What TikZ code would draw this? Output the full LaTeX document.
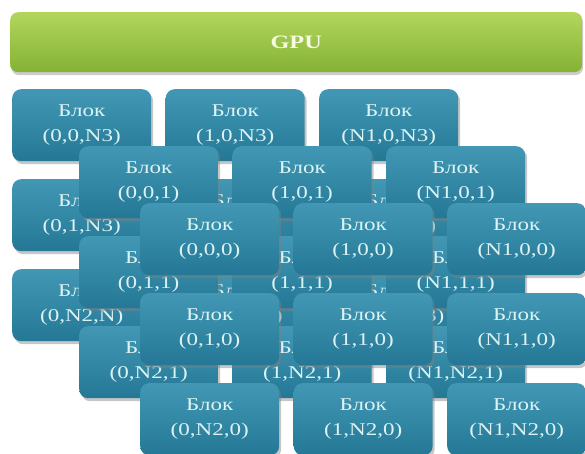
\documentclass[tikz,border=0pt]{standalone}
\usepackage{fontspec}
\setmainfont{Liberation Serif}
\newfontfamily\blokfont[FakeStretch=1.28]{Liberation Serif}
\usetikzlibrary{shadows}
\definecolor{blokTop}{RGB}{66,152,180}
\definecolor{blokMid}{RGB}{44,134,163}
\definecolor{blokBot}{RGB}{36,120,150}
\definecolor{blokText}{RGB}{220,243,243}
\definecolor{gpuTop}{RGB}{178,214,92}
\definecolor{gpuMid}{RGB}{156,199,68}
\definecolor{gpuBot}{RGB}{132,178,52}
\definecolor{gpuText}{RGB}{246,250,226}
\tikzstyle{blok} = [rectangle, rounded corners=9pt, anchor=north west, minimum width=139pt, minimum height=72pt, inner sep=0pt, align=center, text=blokText, font=\blokfont\fontsize{18}{24.5}\selectfont, top color=blokTop, middle color=blokMid, bottom color=blokBot, drop shadow={shadow xshift=2pt, shadow yshift=-3pt, opacity=0.45}]
\tikzstyle{gpu} = [rectangle, rounded corners=8pt, anchor=north west, minimum width=572pt, minimum height=60pt, inner sep=0pt, text=gpuText, font=\blokfont\fontsize{19}{22}\selectfont\bfseries, top color=gpuTop, middle color=gpuMid, bottom color=gpuBot, drop shadow={shadow xshift=1pt, shadow yshift=-3pt, opacity=0.4}]

\begin{document}
\begin{tikzpicture}[x=1pt,y=-1pt]
\useasboundingbox (0,0) rectangle (585,454);

\node[gpu] (gpu) at (10,12) {GPU};

% layers from back (N3) to front (0); last field is the label of the (0,N2) block
\foreach \k/\ox/\oy/\kx in {N3/12/89/N,1/79/146/1,0/140/203/0}{
	\foreach \i/\il in {0/0,1/1,2/N1}{
		\foreach \j/\jl in {0/0,1/1,2/N2}{
			\let\kl\k
			\ifnum\i=0 \ifnum\j=2 \let\kl\kx \fi\fi
			\node[blok] (b\i\j\k) at (\ox+\i*153.5,\oy+\j*90) {Блок\\(\il,\jl,\kl)};
		}}
}
\end{tikzpicture}
\end{document}
